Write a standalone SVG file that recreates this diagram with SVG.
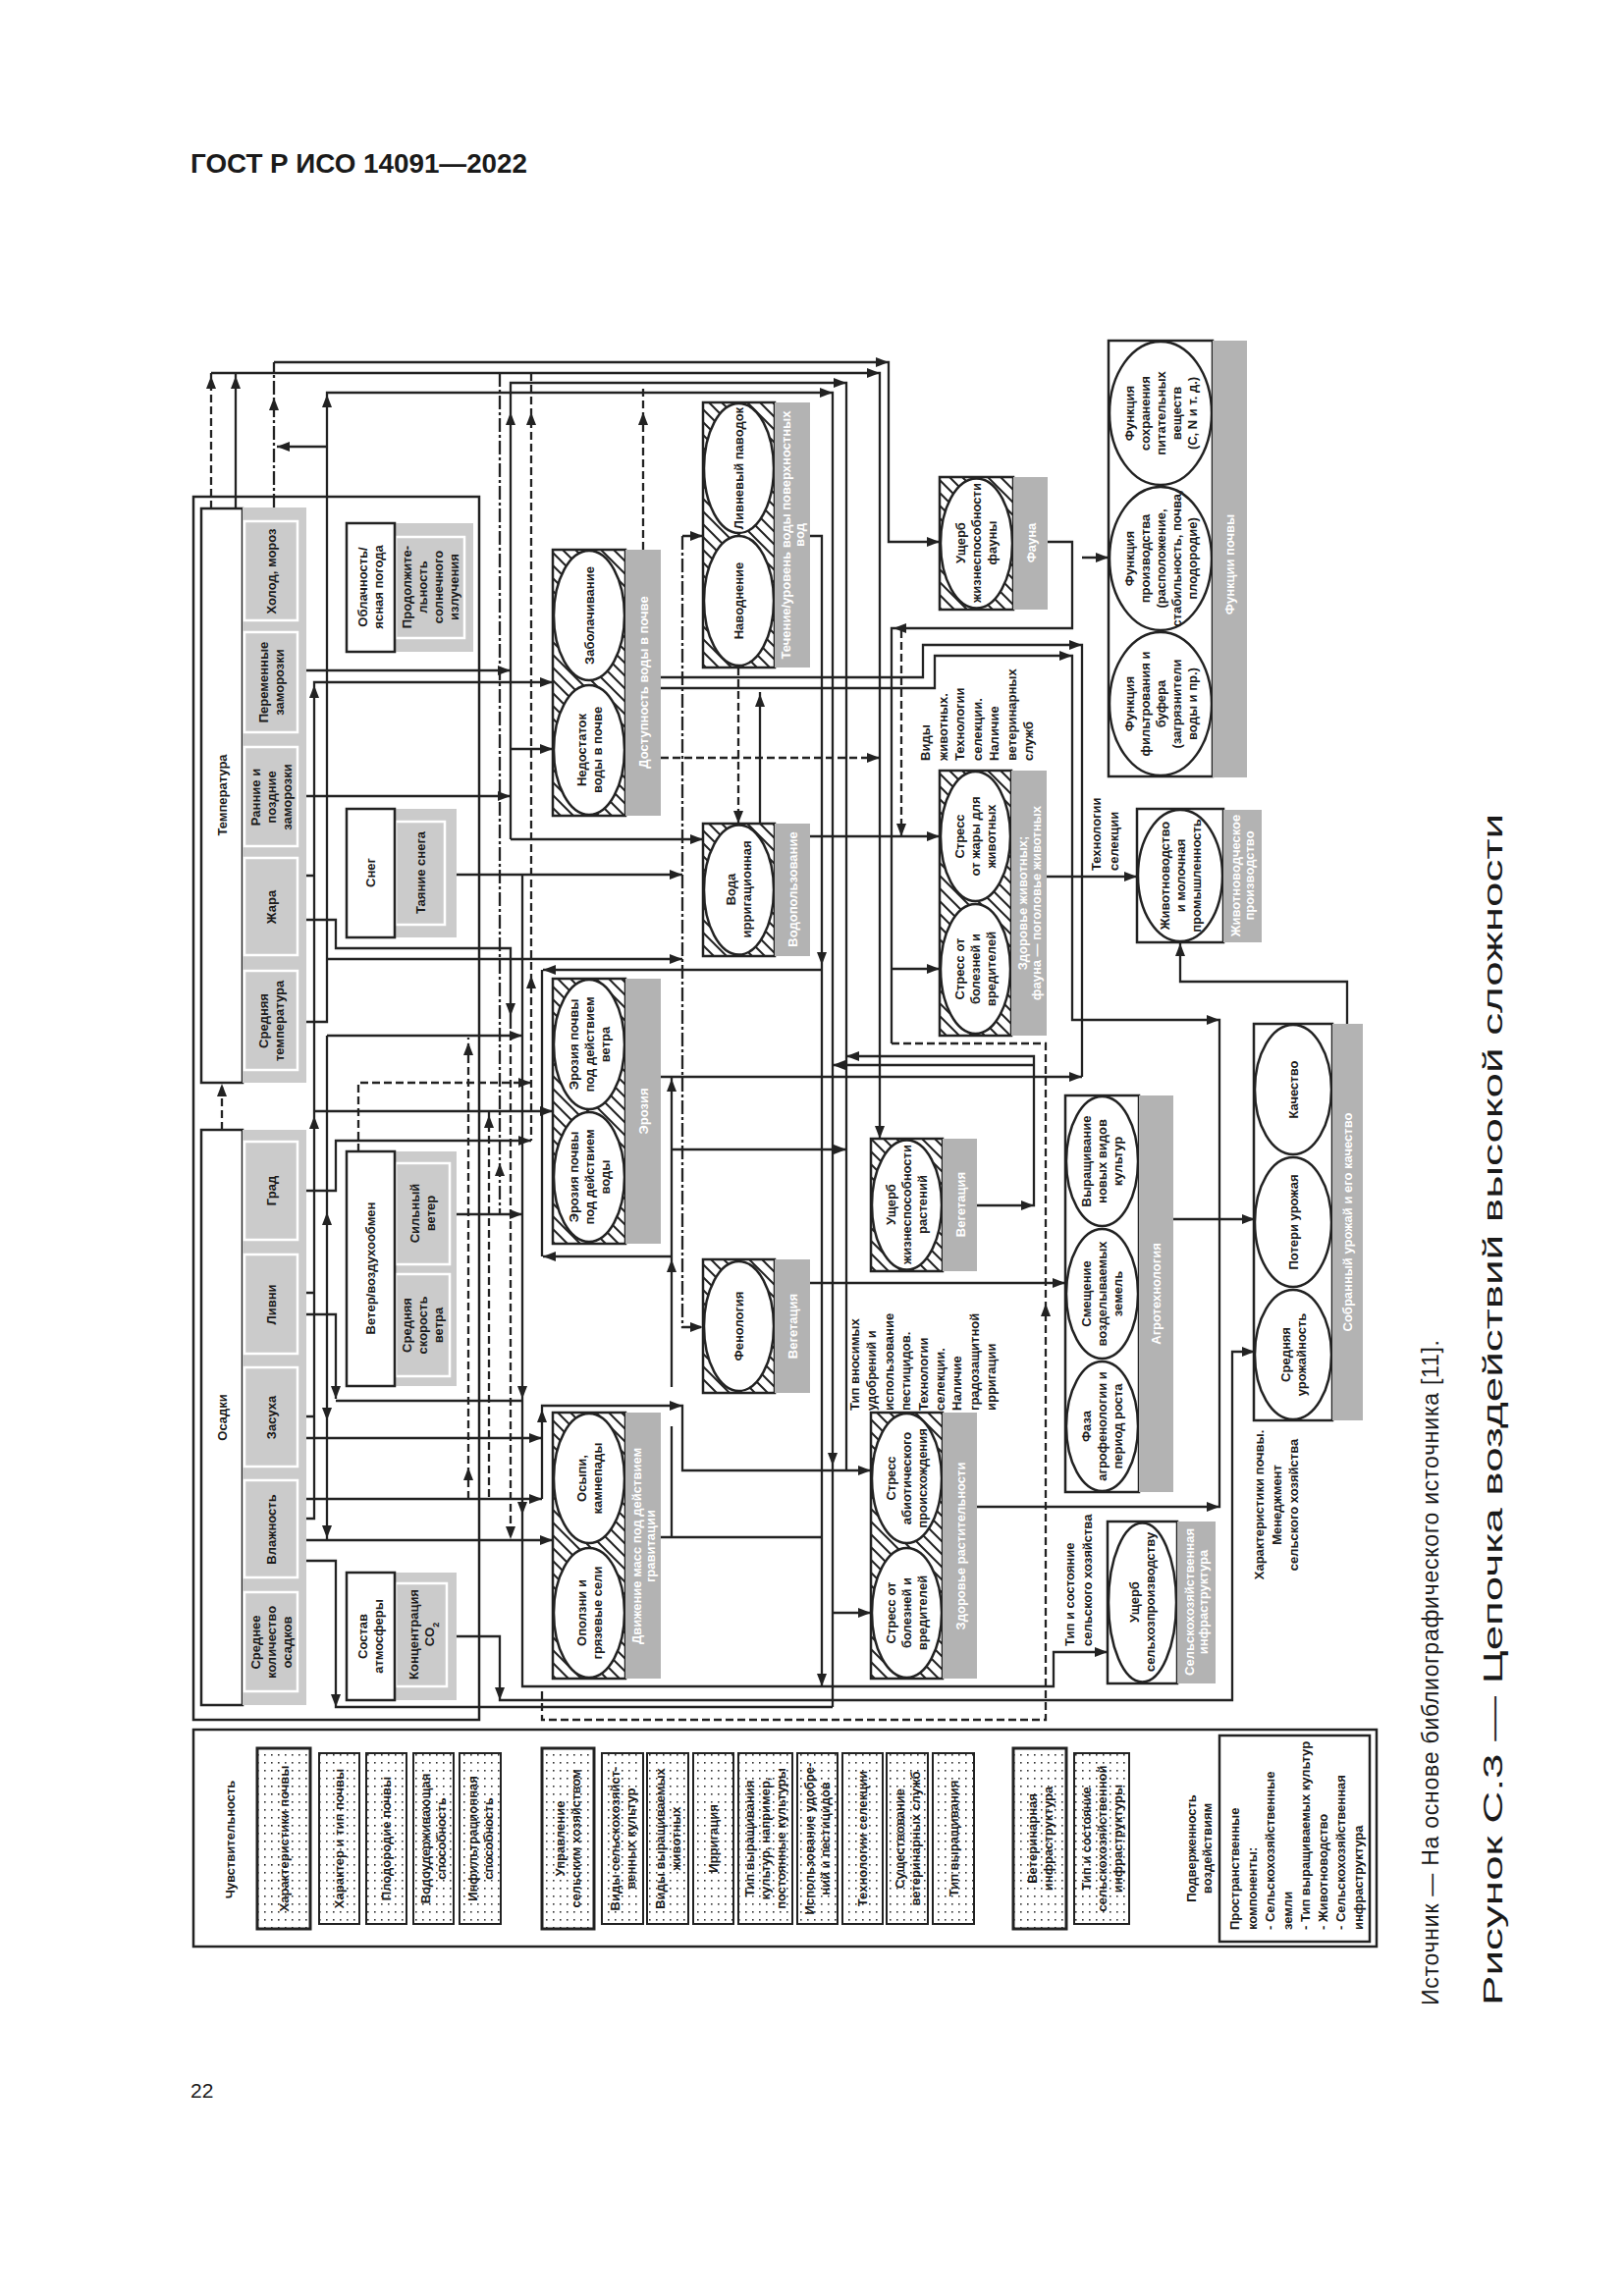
<svg xmlns="http://www.w3.org/2000/svg" xmlns:xlink="http://www.w3.org/1999/xlink" width="1654" height="2339" viewBox="0 0 1654 2339">
<style>
.t{font-family:"Liberation Sans",Arial,sans-serif;font-size:13px;font-weight:bold;fill:#1a1a1a;text-anchor:middle}
.ts{font-family:"Liberation Sans",Arial,sans-serif;font-size:13px;font-weight:bold;fill:#1a1a1a;text-anchor:start}
.tw{font-family:"Liberation Sans",Arial,sans-serif;font-size:13px;font-weight:bold;fill:#fff;text-anchor:middle}
.cap{font-family:"Liberation Sans",Arial,sans-serif;fill:#1a1a1a}
.c{fill:none;stroke:#222;stroke-width:2.3}
.cd{fill:none;stroke:#222;stroke-width:2.3;stroke-dasharray:8 4}
.cdd{fill:none;stroke:#222;stroke-width:2.3;stroke-dasharray:14 3 3 3}
.fr{fill:none;stroke:#222;stroke-width:2.5}
.hb{fill:url(#h);stroke:#222;stroke-width:2.5}
.el{fill:#fff;stroke:#222;stroke-width:2.5}
.pb{fill:#fff;stroke:#222;stroke-width:2.5}
.gs{fill:#b3b3b3}
.cs{fill:#cbcbcb}
.cb{fill:#cbcbcb;stroke:#fff;stroke-width:2.5}
.lg{fill:url(#dots);stroke:#222;stroke-width:2}
.lgh{fill:url(#dots);stroke:#222;stroke-width:3}
.ah{fill:#222}
</style>
<defs>
<pattern id="h" patternUnits="userSpaceOnUse" width="13" height="13">
<path d="M-3,-3 L16,16 M-3,10 L3,16 M10,-3 L16,3" stroke="#222" stroke-width="2"/>
</pattern>
<pattern id="dots" patternUnits="userSpaceOnUse" width="7" height="8">
<rect x="3" y="3" width="1.6" height="1.6" fill="#333"/>
</pattern>
<path id="ar" class="ah" d="M0,0 L-13,-5 L-13,5 Z"/>
<path id="al" class="ah" d="M0,0 L13,-5 L13,5 Z"/>
<path id="ad" class="ah" d="M0,0 L-5,-13 L5,-13 Z"/>
<path id="au" class="ah" d="M0,0 L-5,13 L5,13 Z"/>
</defs>
<rect width="1654" height="2339" fill="#fff"/>

<g id="page-text">
<text class="cap" x="194" y="176" font-size="27" font-weight="bold" textLength="343" lengthAdjust="spacingAndGlyphs">ГОСТ Р ИСО 14091—2022</text>
<text class="cap" x="194" y="2137" font-size="21">22</text>
<text class="cap" font-size="23" transform="translate(1465,2043) rotate(-90)" textLength="678" lengthAdjust="spacing">Источник — На основе библиографического источника [11].</text>
<text class="cap" font-size="27" transform="translate(1530,2043) rotate(-90)" textLength="1214" lengthAdjust="spacingAndGlyphs">Рисунок С.3 — Цепочка воздействий высокой сложности</text>
</g>

<g id="frames">
<rect class="fr" x="197" y="506" width="291" height="1246"/>
<rect class="fr" x="197" y="1762" width="1205" height="221"/>
</g>

<g id="connectors">
<path class="c" d="M279,369 H905 V552 H957"/>
<path class="cdd" d="M279,517 V369"/>
<path class="cd" d="M215,518 V380"/>
<path class="c" d="M240,518 V380"/>
<path class="c" d="M215,380 H896 V1160"/>
<path class="c" d="M520,855 V390 H862 V1498"/>
<path class="c" d="M312,683 H520 M312,811 H520 M520,855 H716 M520,763 H563"/>
<path class="c" d="M312,1041 H333 V400 H848 V1739"/>
<path class="c" d="M848,1643 H887 M333,977 H695"/>
<path class="c" d="M312,1590 H342 V1739 H848"/>
<path class="c" d="M333,455 H282"/>
<path class="c" d="M312,1547 H320 V695 H563 M312,892 H320 M312,1317 H320 M312,1443 H320 M320,1132 H563"/>
<path class="c" d="M312,1213 H342 V1162 H541"/>
<path class="c" d="M312,937 H342 V966 H520 V1040"/>
<path class="cd" d="M520,1040 V1568"/>
<path class="c" d="M312,1569 H563"/>
<path class="c" d="M333,1055 V1569 M333,1055 H532"/>
<path class="c" d="M465,891 H695"/>
<path class="c" d="M532,891 V1718 H1073 V1683 H1128 M458,1237 H532"/>
<path class="c" d="M312,1339 H342 V1425 M342,1427 H532"/>
<path class="c" d="M312,1465 H552 M312,1527 H552 M552,1527 V1432 H695 V1498 H887"/>
<path class="cd" d="M477,1527 V1057 M498,1133 V1527"/>
<path class="cdd" d="M509,380 V1237"/>
<path class="cd" d="M541,380 V1162 M365,1173 V1103 H541"/>
<path class="c" d="M825,546 H837 V1718 M837,988 H553 M552,988 V1280 M684,1280 H553"/>
<path class="c" d="M464,1667 H509 V1732 H1255 V1377 H1278"/>
<path class="cd" d="M552,1723 V1752 H1065 V1063 H908"/>
<path class="c" d="M1067,552 H1092 V640 H908 V1063 M908,987 H957"/>
<path class="c" d="M673,690 H940 V657 H1102 V1097 M1102,568 H1129 M673,1097 H1102"/>
<path class="c" d="M673,701 H952 V668 H1092 V1039 H1242 V1535 H995"/>
<path class="cd" d="M655,560 V392 M673,772 H896"/>
<path class="cdd" d="M695,546 V1352 H716 M695,546 H716"/>
<path class="cd" d="M752,680 V839"/>
<path class="c" d="M774,705 V839"/>
<path class="c" d="M825,852 H957"/>
<path class="cd" d="M918,642 V852"/>
<path class="c" d="M684,1097 V1413 M684,1453 V1566 M673,1566 H837 M684,1171 H862"/>
<path class="c" d="M825,1307 H1085"/>
<path class="c" d="M995,1228 H1053 V1076 H862 M1053,1085 H848"/>
<path class="c" d="M1066,893 H1158"/>
<path class="c" d="M1372,1043 V1000 H1202 V961"/>
<path class="c" d="M1195,1242 H1278"/>
<g id="arrowheads">
<use href="#au" x="279" y="405"/><use href="#au" x="215" y="383"/><use href="#au" x="240" y="383"/><use href="#au" x="520" y="420"/><use href="#au" x="333" y="402"/><use href="#au" x="320" y="698"/><use href="#au" x="320" y="1137"/><use href="#au" x="333" y="1235"/><use href="#au" x="552" y="1436"/><use href="#au" x="477" y="1062"/><use href="#au" x="477" y="1495"/><use href="#au" x="498" y="1136"/><use href="#au" x="509" y="1185"/><use href="#au" x="541" y="420"/><use href="#au" x="541" y="994"/><use href="#au" x="655" y="420"/><use href="#au" x="684" y="1099"/><use href="#au" x="684" y="1283"/><use href="#au" x="774" y="707"/><use href="#au" x="1065" y="1328"/><use href="#au" x="1202" y="961"/>
<use href="#ar" x="905" y="369"/><use href="#ar" x="957" y="552"/><use href="#ar" x="896" y="380"/><use href="#ar" x="862" y="390"/><use href="#ar" x="520" y="683"/><use href="#ar" x="520" y="811"/><use href="#ar" x="716" y="855"/><use href="#ar" x="563" y="763"/><use href="#ar" x="848" y="400"/><use href="#ar" x="887" y="1643"/><use href="#ar" x="695" y="977"/><use href="#ar" x="563" y="695"/><use href="#ar" x="563" y="1132"/><use href="#ar" x="541" y="1162"/><use href="#ar" x="563" y="1569"/><use href="#ar" x="532" y="1055"/><use href="#ar" x="695" y="891"/><use href="#ar" x="1128" y="1683"/><use href="#ar" x="532" y="1237"/><use href="#ar" x="552" y="1465"/><use href="#ar" x="552" y="1527"/><use href="#ar" x="695" y="1432"/><use href="#ar" x="887" y="1498"/><use href="#ar" x="541" y="1103"/><use href="#ar" x="1278" y="1377"/><use href="#ar" x="957" y="987"/><use href="#ar" x="1102" y="657"/><use href="#ar" x="1129" y="568"/><use href="#ar" x="1102" y="1097"/><use href="#ar" x="1092" y="668"/><use href="#ar" x="1242" y="1039"/><use href="#ar" x="1242" y="1535"/><use href="#ar" x="896" y="772"/><use href="#ar" x="716" y="1352"/><use href="#ar" x="716" y="546"/><use href="#ar" x="957" y="852"/><use href="#ar" x="862" y="1171"/><use href="#ar" x="1085" y="1307"/><use href="#ar" x="1053" y="1228"/><use href="#ar" x="1158" y="893"/><use href="#ar" x="1278" y="1242"/>
<use href="#ad" x="896" y="1160"/><use href="#ad" x="848" y="1493"/><use href="#ad" x="342" y="1425"/><use href="#ad" x="520" y="1035"/><use href="#ad" x="520" y="1568"/><use href="#ad" x="333" y="1447"/><use href="#ad" x="333" y="1567"/><use href="#ad" x="532" y="1425"/><use href="#ad" x="532" y="1543"/><use href="#ad" x="509" y="1732"/><use href="#ad" x="837" y="983"/><use href="#ad" x="837" y="1718"/><use href="#ad" x="752" y="839"/><use href="#ad" x="918" y="852"/><use href="#ad" x="342" y="1739"/>
<use href="#al" x="282" y="455"/><use href="#al" x="553" y="988"/><use href="#al" x="553" y="1280"/><use href="#al" x="910" y="640"/><use href="#al" x="862" y="1076"/><use href="#al" x="848" y="1085"/>
</g>
</g>

<g id="temperature">
<rect class="pb" x="205" y="518" width="42" height="585"/>
<text class="t" transform="translate(226,810) rotate(-90)"><tspan x="0" y="4.5">Температура</tspan></text>
<rect class="cs" x="247" y="517" width="65" height="586"/>
<rect class="cb" x="249" y="531" width="54" height="101"/>
<rect class="cb" x="249" y="644" width="54" height="102"/>
<rect class="cb" x="249" y="761" width="54" height="101"/>
<rect class="cb" x="249" y="874" width="54" height="99"/>
<rect class="cb" x="249" y="989" width="54" height="101"/>
<text class="t" transform="translate(276,582) rotate(-90)"><tspan x="0" y="4.5">Холод, мороз</tspan></text>
<text class="t" transform="translate(276,695) rotate(-90)"><tspan x="0" y="-3.5">Переменные</tspan><tspan x="0" y="12.5">заморозки</tspan></text>
<text class="t" transform="translate(276,812) rotate(-90)"><tspan x="0" y="-11.5">Ранние и</tspan><tspan x="0" y="4.5">поздние</tspan><tspan x="0" y="20.5">заморозки</tspan></text>
<text class="t" transform="translate(276,924) rotate(-90)"><tspan x="0" y="4.5">Жара</tspan></text>
<text class="t" transform="translate(276,1040) rotate(-90)"><tspan x="0" y="-3.5">Средняя</tspan><tspan x="0" y="12.5">температура</tspan></text>
</g>

<g id="precipitation">
<rect class="pb" x="205" y="1151" width="42" height="586"/>
<text class="t" transform="translate(226,1444) rotate(-90)"><tspan x="0" y="4.5">Осадки</tspan></text>
<rect class="cs" x="247" y="1151" width="65" height="586"/>
<rect class="cb" x="249" y="1163" width="54" height="100"/>
<rect class="cb" x="249" y="1278" width="54" height="101"/>
<rect class="cb" x="249" y="1393" width="54" height="101"/>
<rect class="cb" x="249" y="1508" width="54" height="99"/>
<rect class="cb" x="249" y="1622" width="54" height="101"/>
<text class="t" transform="translate(276,1213) rotate(-90)"><tspan x="0" y="4.5">Град</tspan></text>
<text class="t" transform="translate(276,1329) rotate(-90)"><tspan x="0" y="4.5">Ливни</tspan></text>
<text class="t" transform="translate(276,1444) rotate(-90)"><tspan x="0" y="4.5">Засуха</tspan></text>
<text class="t" transform="translate(276,1558) rotate(-90)"><tspan x="0" y="4.5">Влажность</tspan></text>
<text class="t" transform="translate(276,1673) rotate(-90)"><tspan x="0" y="-11.5">Среднее</tspan><tspan x="0" y="4.5">количество</tspan><tspan x="0" y="20.5">осадков</tspan></text>
<path class="cd" d="M226,1151 V1106"/>
<use href="#au" x="226" y="1104"/>
</g>

<g id="cloudiness">
<rect class="cs" x="402" y="533" width="80" height="131"/>
<rect class="cb" x="403" y="547" width="70" height="103"/>
<rect class="pb" x="353" y="533" width="49" height="131"/>
<text class="t" transform="translate(377.5,598) rotate(-90)"><tspan x="0" y="-3.5">Облачность/</tspan><tspan x="0" y="12.5">ясная погода</tspan></text>
<text class="t" transform="translate(438,598) rotate(-90)"><tspan x="0" y="-19.5">Продолжите-</tspan><tspan x="0" y="-3.5">льность</tspan><tspan x="0" y="12.5">солнечного</tspan><tspan x="0" y="28.5">излучения</tspan></text>
</g>

<g id="snow">
<rect class="cs" x="402" y="824" width="63" height="131"/>
<rect class="cb" x="403" y="837" width="50" height="105"/>
<rect class="pb" x="353" y="824" width="49" height="131"/>
<text class="t" transform="translate(377.5,889) rotate(-90)"><tspan x="0" y="4.5">Снег</tspan></text>
<text class="t" transform="translate(428,889) rotate(-90)"><tspan x="0" y="4.5">Таяние снега</tspan></text>
</g>

<g id="wind">
<rect class="cs" x="402" y="1173" width="63" height="239"/>
<rect class="cb" x="403" y="1185" width="55" height="103"/>
<rect class="cb" x="403" y="1298" width="55" height="104"/>
<rect class="pb" x="353" y="1173" width="49" height="239"/>
<text class="t" transform="translate(377.5,1292) rotate(-90)"><tspan x="0" y="4.5">Ветер/воздухообмен</tspan></text>
<text class="t" transform="translate(430,1236) rotate(-90)"><tspan x="0" y="-3.5">Сильный</tspan><tspan x="0" y="12.5">ветер</tspan></text>
<text class="t" transform="translate(430,1350) rotate(-90)"><tspan x="0" y="-11.5">Средняя</tspan><tspan x="0" y="4.5">скорость</tspan><tspan x="0" y="20.5">ветра</tspan></text>
</g>

<g id="atmosphere">
<rect class="cs" x="402" y="1602" width="63" height="130"/>
<rect class="cb" x="403" y="1613" width="52" height="105"/>
<rect class="pb" x="353" y="1602" width="49" height="130"/>
<text class="t" transform="translate(377.5,1667) rotate(-90)"><tspan x="0" y="-3.5">Состав</tspan><tspan x="0" y="12.5">атмосферы</tspan></text>
<text class="t" transform="translate(429,1665) rotate(-90)"><tspan x="0" y="-3.5">Концентрация</tspan><tspan x="0" y="12.5">CO<tspan font-size="9" baseline-shift="sub">2</tspan></tspan></text>
</g>

<g id="soil-water">
<rect class="hb" x="563" y="560" width="74" height="271"/>
<ellipse class="el" cx="600" cy="627" rx="36" ry="66"/>
<ellipse class="el" cx="600" cy="764" rx="36" ry="66"/>
<rect class="gs" x="637" y="560" width="36" height="271"/>
<text class="t" transform="translate(600,627) rotate(-90)"><tspan x="0" y="4.5">Заболачивание</tspan></text>
<text class="t" transform="translate(600,764) rotate(-90)"><tspan x="0" y="-3.5">Недостаток</tspan><tspan x="0" y="12.5">воды в почве</tspan></text>
<text class="tw" transform="translate(655,695) rotate(-90)"><tspan x="0" y="4.5">Доступность воды в почве</tspan></text>
</g>

<g id="surface-water">
<rect class="hb" x="716" y="410" width="73" height="270"/>
<ellipse class="el" cx="752.5" cy="477" rx="35.5" ry="66"/>
<ellipse class="el" cx="752.5" cy="612" rx="35.5" ry="66"/>
<rect class="gs" x="789" y="410" width="36" height="270"/>
<text class="t" transform="translate(752,477) rotate(-90)"><tspan x="0" y="4.5">Ливневый паводок</tspan></text>
<text class="t" transform="translate(752,612) rotate(-90)"><tspan x="0" y="4.5">Наводнение</tspan></text>
<text class="tw" transform="translate(807,545) rotate(-90)"><tspan x="0" y="-2.5">Течение/уровень воды поверхностных</tspan><tspan x="0" y="11.5">вод</tspan></text>
</g>

<g id="water-use">
<rect class="hb" x="716" y="839" width="73" height="135"/>
<ellipse class="el" cx="752.5" cy="906.5" rx="35.5" ry="66"/>
<rect class="gs" x="789" y="839" width="36" height="135"/>
<text class="t" transform="translate(752,906) rotate(-90)"><tspan x="0" y="-3.5">Вода</tspan><tspan x="0" y="12.5">ирригационная</tspan></text>
<text class="tw" transform="translate(807,906) rotate(-90)"><tspan x="0" y="4.5">Водопользование</tspan></text>
</g>

<g id="erosion">
<rect class="hb" x="563" y="997" width="74" height="270"/>
<ellipse class="el" cx="600" cy="1064" rx="36" ry="66"/>
<ellipse class="el" cx="600" cy="1199" rx="36" ry="66"/>
<rect class="gs" x="637" y="997" width="36" height="270"/>
<text class="t" transform="translate(600,1064) rotate(-90)"><tspan x="0" y="-11.5">Эрозия почвы</tspan><tspan x="0" y="4.5">под действием</tspan><tspan x="0" y="20.5">ветра</tspan></text>
<text class="t" transform="translate(600,1199) rotate(-90)"><tspan x="0" y="-11.5">Эрозия почвы</tspan><tspan x="0" y="4.5">под действием</tspan><tspan x="0" y="20.5">воды</tspan></text>
<text class="tw" transform="translate(655,1132) rotate(-90)"><tspan x="0" y="4.5">Эрозия</tspan></text>
</g>

<g id="phenology">
<rect class="hb" x="716" y="1283" width="73" height="136"/>
<ellipse class="el" cx="752.5" cy="1351" rx="35.5" ry="66"/>
<rect class="gs" x="789" y="1283" width="36" height="136"/>
<text class="t" transform="translate(752,1351) rotate(-90)"><tspan x="0" y="4.5">Фенология</tspan></text>
<text class="tw" transform="translate(807,1351) rotate(-90)"><tspan x="0" y="4.5">Вегетация</tspan></text>
</g>

<g id="gravity">
<rect class="hb" x="563" y="1439" width="74" height="271"/>
<ellipse class="el" cx="600" cy="1506" rx="36" ry="66"/>
<ellipse class="el" cx="600" cy="1643" rx="36" ry="66"/>
<rect class="gs" x="637" y="1439" width="36" height="271"/>
<text class="t" transform="translate(600,1506) rotate(-90)"><tspan x="0" y="-3.5">Осыпи,</tspan><tspan x="0" y="12.5">камнепады</tspan></text>
<text class="t" transform="translate(600,1643) rotate(-90)"><tspan x="0" y="-3.5">Оползни и</tspan><tspan x="0" y="12.5">грязевые сели</tspan></text>
<text class="tw" transform="translate(655,1575) rotate(-90)"><tspan x="0" y="-2.5">Движение масс под действием</tspan><tspan x="0" y="11.5">гравитации</tspan></text>
</g>

<g id="plant-damage">
<rect class="hb" x="887" y="1160" width="73" height="135"/>
<ellipse class="el" cx="923.5" cy="1227.5" rx="35.5" ry="66"/>
<rect class="gs" x="960" y="1160" width="35" height="135"/>
<text class="t" transform="translate(923,1227) rotate(-90)"><tspan x="0" y="-11.5">Ущерб</tspan><tspan x="0" y="4.5">жизнеспособности</tspan><tspan x="0" y="20.5">растений</tspan></text>
<text class="tw" transform="translate(978,1227) rotate(-90)"><tspan x="0" y="4.5">Вегетация</tspan></text>
</g>

<g id="plant-health">
<rect class="hb" x="887" y="1439" width="73" height="271"/>
<ellipse class="el" cx="923.5" cy="1506" rx="35.5" ry="66"/>
<ellipse class="el" cx="923.5" cy="1643" rx="35.5" ry="66"/>
<rect class="gs" x="960" y="1439" width="35" height="271"/>
<text class="t" transform="translate(923,1506) rotate(-90)"><tspan x="0" y="-11.5">Стресс</tspan><tspan x="0" y="4.5">абиотического</tspan><tspan x="0" y="20.5">происхождения</tspan></text>
<text class="t" transform="translate(923,1643) rotate(-90)"><tspan x="0" y="-11.5">Стресс от</tspan><tspan x="0" y="4.5">болезней и</tspan><tspan x="0" y="20.5">вредителей</tspan></text>
<text class="tw" transform="translate(978,1575) rotate(-90)"><tspan x="0" y="4.5">Здоровье растительности</tspan></text>
</g>

<g id="animal-health">
<rect class="hb" x="957" y="785" width="73" height="270"/>
<ellipse class="el" cx="993.5" cy="852" rx="35.5" ry="66"/>
<ellipse class="el" cx="993.5" cy="987" rx="35.5" ry="66"/>
<rect class="gs" x="1030" y="785" width="36" height="270"/>
<text class="t" transform="translate(993,852) rotate(-90)"><tspan x="0" y="-11.5">Стресс</tspan><tspan x="0" y="4.5">от жары для</tspan><tspan x="0" y="20.5">животных</tspan></text>
<text class="t" transform="translate(993,987) rotate(-90)"><tspan x="0" y="-11.5">Стресс от</tspan><tspan x="0" y="4.5">болезней и</tspan><tspan x="0" y="20.5">вредителей</tspan></text>
<text class="tw" transform="translate(1048,920) rotate(-90)"><tspan x="0" y="-2.5">Здоровье животных;</tspan><tspan x="0" y="11.5">фауна — поголовье животных</tspan></text>
</g>

<g id="fauna">
<rect class="hb" x="957" y="486" width="75" height="135"/>
<ellipse class="el" cx="994.5" cy="553.5" rx="36.5" ry="66"/>
<rect class="gs" x="1032" y="486" width="35" height="135"/>
<text class="t" transform="translate(994,553) rotate(-90)"><tspan x="0" y="-11.5">Ущерб</tspan><tspan x="0" y="4.5">жизнеспособности</tspan><tspan x="0" y="20.5">фауны</tspan></text>
<text class="tw" transform="translate(1050,553) rotate(-90)"><tspan x="0" y="4.5">Фауна</tspan></text>
</g>

<g id="soil-functions">
<rect class="pb" x="1129" y="347" width="106" height="444"/>
<ellipse class="el" cx="1182" cy="421" rx="52" ry="73"/>
<ellipse class="el" cx="1182" cy="569" rx="52" ry="73"/>
<ellipse class="el" cx="1182" cy="717" rx="52" ry="73"/>
<rect class="gs" x="1235" y="347" width="35" height="445"/>
<text class="t" transform="translate(1182,421) rotate(-90)"><tspan x="0" y="-27.5">Функция</tspan><tspan x="0" y="-11.5">сохранения</tspan><tspan x="0" y="4.5">питательных</tspan><tspan x="0" y="20.5">веществ</tspan><tspan x="0" y="36.5">(C, N и т. д.)</tspan></text>
<text class="t" transform="translate(1182,569) rotate(-90)"><tspan x="0" y="-27.5">Функция</tspan><tspan x="0" y="-11.5">производства</tspan><tspan x="0" y="4.5">(расположение,</tspan><tspan x="0" y="20.5">стабильность, почва,</tspan><tspan x="0" y="36.5">плодородие)</tspan></text>
<text class="t" transform="translate(1182,717) rotate(-90)"><tspan x="0" y="-27.5">Функция</tspan><tspan x="0" y="-11.5">фильтрования и</tspan><tspan x="0" y="4.5">буфера</tspan><tspan x="0" y="20.5">(загрязнители</tspan><tspan x="0" y="36.5">воды и пр.)</tspan></text>
<text class="tw" transform="translate(1252,575) rotate(-90)"><tspan x="0" y="4.5">Функции почвы</tspan></text>
</g>

<g id="livestock">
<rect class="pb" x="1158" y="824" width="88" height="136"/>
<ellipse class="el" cx="1202" cy="892" rx="43" ry="67"/>
<rect class="gs" x="1246" y="825" width="39" height="135"/>
<text class="t" transform="translate(1202,892) rotate(-90)"><tspan x="0" y="-11.5">Животноводство</tspan><tspan x="0" y="4.5">и молочная</tspan><tspan x="0" y="20.5">промышленность</tspan></text>
<text class="tw" transform="translate(1265,892) rotate(-90)"><tspan x="0" y="-2.5">Животноводческое</tspan><tspan x="0" y="11.5">производство</tspan></text>
</g>

<g id="harvest">
<rect class="pb" x="1277" y="1043" width="80" height="404"/>
<ellipse class="el" cx="1317" cy="1110" rx="39" ry="66"/>
<ellipse class="el" cx="1317" cy="1245" rx="39" ry="66"/>
<ellipse class="el" cx="1317" cy="1380" rx="39" ry="66"/>
<rect class="gs" x="1357" y="1043" width="31" height="404"/>
<text class="t" transform="translate(1317,1110) rotate(-90)"><tspan x="0" y="4.5">Качество</tspan></text>
<text class="t" transform="translate(1317,1245) rotate(-90)"><tspan x="0" y="4.5">Потери урожая</tspan></text>
<text class="t" transform="translate(1317,1380) rotate(-90)"><tspan x="0" y="-3.5">Средняя</tspan><tspan x="0" y="12.5">урожайность</tspan></text>
<text class="tw" transform="translate(1372,1245) rotate(-90)"><tspan x="0" y="4.5">Собранный урожай и его качество</tspan></text>
</g>

<g id="agrotechnology">
<rect class="pb" x="1085" y="1116" width="75" height="404"/>
<ellipse class="el" cx="1122.5" cy="1183" rx="36.5" ry="66"/>
<ellipse class="el" cx="1122.5" cy="1318" rx="36.5" ry="66"/>
<ellipse class="el" cx="1122.5" cy="1453" rx="36.5" ry="66"/>
<rect class="gs" x="1160" y="1116" width="35" height="404"/>
<text class="t" transform="translate(1122,1183) rotate(-90)"><tspan x="0" y="-11.5">Выращивание</tspan><tspan x="0" y="4.5">новых видов</tspan><tspan x="0" y="20.5">культур</tspan></text>
<text class="t" transform="translate(1122,1318) rotate(-90)"><tspan x="0" y="-11.5">Смещение</tspan><tspan x="0" y="4.5">возделываемых</tspan><tspan x="0" y="20.5">земель</tspan></text>
<text class="t" transform="translate(1122,1453) rotate(-90)"><tspan x="0" y="-11.5">Фаза</tspan><tspan x="0" y="4.5">агрофенологии и</tspan><tspan x="0" y="20.5">период роста</tspan></text>
<text class="tw" transform="translate(1177,1318) rotate(-90)"><tspan x="0" y="4.5">Агротехнология</tspan></text>
</g>

<g id="agri-infrastructure">
<rect class="pb" x="1128" y="1550" width="71" height="165"/>
<ellipse class="el" cx="1163.5" cy="1632.5" rx="34.5" ry="81"/>
<rect class="gs" x="1199" y="1550" width="39" height="165"/>
<text class="t" transform="translate(1163,1632) rotate(-90)"><tspan x="0" y="-3.5">Ущерб</tspan><tspan x="0" y="12.5">сельхозпроизводству</tspan></text>
<text class="tw" transform="translate(1218,1632) rotate(-90)"><tspan x="0" y="-2.5">Сельскохозяйственная</tspan><tspan x="0" y="11.5">инфраструктура</tspan></text>
</g>

<g id="annotations">
<text class="ts" transform="translate(875,1437) rotate(-90)"><tspan x="0" y="0">Тип вносимых</tspan><tspan x="0" y="17.4">удобрений и</tspan><tspan x="0" y="34.8">использование</tspan><tspan x="0" y="52.2">пестицидов.</tspan><tspan x="0" y="69.6">Технологии</tspan><tspan x="0" y="87">селекции.</tspan><tspan x="0" y="104.4">Наличие</tspan><tspan x="0" y="121.8">градозащитной</tspan><tspan x="0" y="139.2">ирригации</tspan></text>
<text class="ts" transform="translate(947,775) rotate(-90)"><tspan x="0" y="0">Виды</tspan><tspan x="0" y="17.5">животных.</tspan><tspan x="0" y="35">Технологии</tspan><tspan x="0" y="52.5">селекции.</tspan><tspan x="0" y="70">Наличие</tspan><tspan x="0" y="87.5">ветеринарных</tspan><tspan x="0" y="105">служб</tspan></text>
<text class="ts" transform="translate(1121,887) rotate(-90)"><tspan x="0" y="0">Технологии</tspan><tspan x="0" y="18">селекции</tspan></text>
<text class="ts" transform="translate(1094,1677) rotate(-90)"><tspan x="0" y="0">Тип и состояние</tspan><tspan x="0" y="18">сельского хозяйства</tspan></text>
<text class="t" transform="translate(1287,1533) rotate(-90)"><tspan x="0" y="0">Характеристики почвы.</tspan><tspan x="0" y="17.5">Менеджмент</tspan><tspan x="0" y="35">сельского хозяйства</tspan></text>
</g>

<g id="legend">
<text class="t" transform="translate(234,1874) rotate(-90)"><tspan x="0" y="4.5">Чувствительность</tspan></text>
<rect class="lgh" x="262" y="1781" width="54" height="184"/>
<rect class="lg" x="325" y="1786" width="41" height="174"/>
<rect class="lg" x="373" y="1786" width="41" height="174"/>
<rect class="lg" x="421" y="1786" width="41" height="174"/>
<rect class="lg" x="468" y="1786" width="42" height="174"/>
<rect class="lgh" x="552" y="1781" width="53" height="184"/>
<rect class="lg" x="613" y="1786" width="42" height="174"/>
<rect class="lg" x="659" y="1786" width="42" height="174"/>
<rect class="lg" x="706" y="1786" width="41" height="174"/>
<rect class="lg" x="752" y="1786" width="55" height="174"/>
<rect class="lg" x="812" y="1786" width="41" height="174"/>
<rect class="lg" x="858" y="1786" width="41" height="174"/>
<rect class="lg" x="903" y="1786" width="42" height="174"/>
<rect class="lg" x="950" y="1786" width="42" height="174"/>
<rect class="lgh" x="1032" y="1781" width="54" height="184"/>
<rect class="lg" x="1094" y="1786" width="56" height="174"/>
<text class="t" transform="translate(289,1873) rotate(-90)"><tspan x="0" y="4.5">Характеристики почвы</tspan></text>
<text class="t" transform="translate(345.5,1873) rotate(-90)"><tspan x="0" y="4.5">Характер и тип почвы</tspan></text>
<text class="t" transform="translate(393.5,1873) rotate(-90)"><tspan x="0" y="4.5">Плодородие почвы</tspan></text>
<text class="t" transform="translate(441.5,1873) rotate(-90)"><tspan x="0" y="-3.5">Водоудерживающая</tspan><tspan x="0" y="12.5">способность</tspan></text>
<text class="t" transform="translate(489,1873) rotate(-90)"><tspan x="0" y="-3.5">Инфильтрационная</tspan><tspan x="0" y="12.5">способность</tspan></text>
<text class="t" transform="translate(578.5,1873) rotate(-90)"><tspan x="0" y="-3.5">Управление</tspan><tspan x="0" y="12.5">сельским хозяйством</tspan></text>
<text class="t" transform="translate(634,1873) rotate(-90)"><tspan x="0" y="-3.5">Виды сельскохозяйст-</tspan><tspan x="0" y="12.5">венных культур</tspan></text>
<text class="t" transform="translate(680,1873) rotate(-90)"><tspan x="0" y="-3.5">Виды выращиваемых</tspan><tspan x="0" y="12.5">животных</tspan></text>
<text class="t" transform="translate(726.5,1873) rotate(-90)"><tspan x="0" y="4.5">Ирригация</tspan></text>
<text class="t" transform="translate(779.5,1873) rotate(-90)"><tspan x="0" y="-11.5">Тип выращивания</tspan><tspan x="0" y="4.5">культур, например,</tspan><tspan x="0" y="20.5">постоянные культуры</tspan></text>
<text class="t" transform="translate(832.5,1873) rotate(-90)"><tspan x="0" y="-3.5">Использование удобре-</tspan><tspan x="0" y="12.5">ний и пестицидов</tspan></text>
<text class="t" transform="translate(878.5,1873) rotate(-90)"><tspan x="0" y="4.5">Технологии селекции</tspan></text>
<text class="t" transform="translate(924,1873) rotate(-90)"><tspan x="0" y="-3.5">Существование</tspan><tspan x="0" y="12.5">ветеринарных служб</tspan></text>
<text class="t" transform="translate(971,1873) rotate(-90)"><tspan x="0" y="4.5">Тип выращивания</tspan></text>
<text class="t" transform="translate(1059,1873) rotate(-90)"><tspan x="0" y="-3.5">Ветеринарная</tspan><tspan x="0" y="12.5">инфраструктура</tspan></text>
<text class="t" transform="translate(1122,1873) rotate(-90)"><tspan x="0" y="-11.5">Тип и состояние</tspan><tspan x="0" y="4.5">сельскохозяйственной</tspan><tspan x="0" y="20.5">инфраструктуры</tspan></text>
<text class="t" transform="translate(1221,1883) rotate(-90)"><tspan x="0" y="-3.5">Подверженность</tspan><tspan x="0" y="12.5">воздействиям</tspan></text>
<rect class="fr" x="1242" y="1768" width="153" height="210"/>
<text class="ts" transform="translate(1262,1966) rotate(-90)"><tspan x="0" y="0">Пространственные</tspan><tspan x="0" y="18">компоненты:</tspan><tspan x="0" y="36">- Сельскохозяйственные</tspan><tspan x="0" y="54">земли</tspan><tspan x="0" y="72">- Тип выращиваемых культур</tspan><tspan x="0" y="90">- Животноводство</tspan><tspan x="0" y="108">- Сельскохозяйственная</tspan><tspan x="0" y="126">инфраструктура</tspan></text>
</g>
</svg>
